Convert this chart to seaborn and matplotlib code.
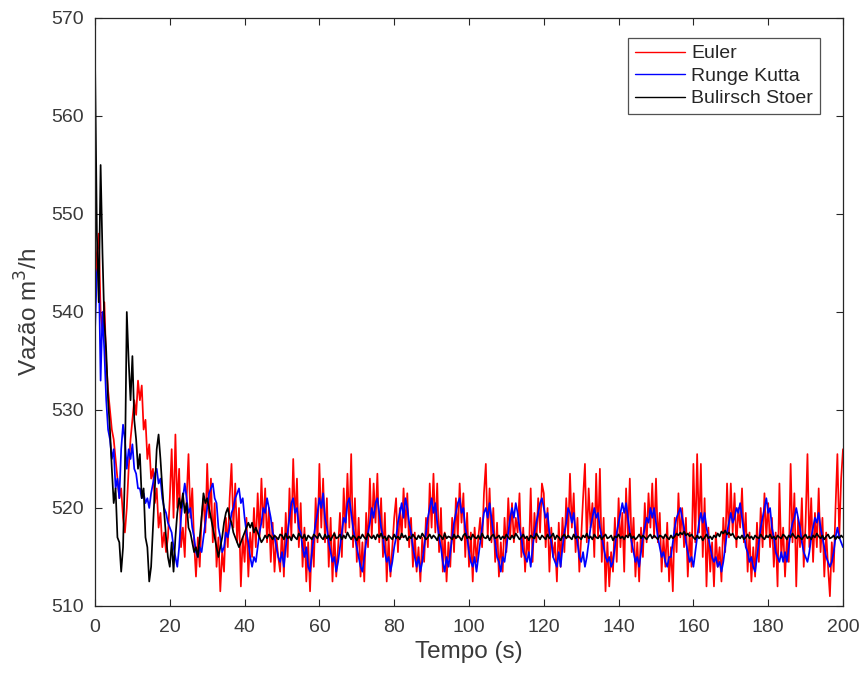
import numpy as np
import pandas as pd
import matplotlib
matplotlib.use("Agg")
import matplotlib.pyplot as plt
import seaborn as sns

# ---------------- data (0.5 s step) ----------------
t_step = 0.5

euler = [
    541, 546, 548, 540, 538, 541, 535, 532, 530, 528, 527, 525, 523, 521, 522, 519, 517.5, 520, 524, 527,
    529, 531, 529.5, 533, 531, 532.5, 528, 529, 525, 526.5, 523, 524, 520.5, 522, 518, 519.5, 516, 517.5, 515.5, 517,
    521, 526, 519, 527.5, 520, 524, 516, 518, 515, 521, 525.5, 519, 522, 516.5, 513, 517, 514, 519, 521, 517.5,
    524.5, 519, 523, 516.5, 520.5, 514, 517, 511.5, 515.5, 513.5, 519, 516, 521, 524.5, 518, 522.5, 516.5, 520, 512, 517,
    514.5, 519, 513, 517.5, 515, 520, 516, 521.5, 517, 523, 518, 522, 516.5, 520, 514.5, 518.5, 513.5, 517, 515, 513.5,
    518, 513, 519.5, 515, 522, 517, 525, 518.5, 523, 516, 520.5, 514, 518, 512.5, 516.5, 511.5, 517, 514, 521, 516.5,
    524.5, 518, 523, 516.5, 521, 514, 519, 512.5, 517.5, 513, 516, 519.5, 515, 522, 517.5, 523.5, 518, 525.5, 516, 521,
    514.5, 519, 513, 516.5, 512.5, 519.5, 516, 523, 517, 522.5, 518.5, 523.5, 516.5, 521, 515, 519.5, 512.5, 517, 513, 516,
    519, 521, 515.5, 520, 517, 522, 518, 521.5, 516, 519, 514, 517.5, 513.5, 516, 512.5, 517, 514.5, 519, 516, 522.5,
    518, 523.5, 517.5, 522.5, 515.5, 520, 513.5, 517.5, 512.5, 516.5, 514, 519, 515.5, 521, 517, 522.5, 518.5, 521.5, 515, 519.5,
    514, 517.5, 512.5, 518, 514.5, 517, 519, 516, 521.5, 524.5, 517, 522, 516.5, 520, 514.5, 518.5, 513, 516.5, 513.5, 519,
    515.5, 521, 517, 520.5, 516.5, 519, 517.5, 521.5, 515, 518, 513.5, 517, 515, 522, 514.5, 519.5, 516.5, 521, 517.5, 522.5,
    521.5, 516, 520, 513.5, 518, 515, 516.5, 512.5, 518.5, 514, 519, 515.5, 521, 517, 523.5, 518, 521.5, 515.5, 519, 513.5,
    517, 521, 524.5, 516.5, 522, 518, 520.5, 515, 523.5, 517, 524, 514.5, 519, 511.5, 516.5, 512, 515.5, 513.5, 519, 514.5,
    521, 516, 519.5, 513.5, 522, 517, 523, 515.5, 519, 513, 516.5, 512.5, 518, 515, 520.5, 516.5, 521.5, 518, 522.5, 517,
    523, 516.5, 519.5, 513.5, 517, 514, 518.5, 512.5, 516, 511.5, 519, 515.5, 521.5, 517, 520, 516, 519, 513, 517.5, 514,
    524.5, 516.5, 525.5, 517.5, 524.5, 515, 521, 512, 518, 513.5, 516.5, 512, 517.5, 514, 516, 512.5, 519, 515.5, 522.5, 517,
    522.5, 517.5, 521.5, 516, 520, 518, 522, 516.5, 519.5, 513.5, 517.5, 512.5, 516, 513, 518.5, 514.5, 520, 516, 521.5, 517,
    520.5, 516, 519, 514, 517.5, 512, 522.5, 515, 518, 513, 517, 514.5, 524.5, 516.5, 521.5, 512, 519, 516, 521, 514,
    518.5, 525.5, 516, 521, 514.5, 519.5, 516, 522, 515.5, 519, 513, 517.5, 514, 511, 516.5, 513.5, 520, 525.5, 517, 523,
    526,
]

runge_kutta = [
    538, 544, 545, 533, 540, 536, 531, 528, 527, 525, 526, 522, 523, 521, 526, 528.5, 527, 524, 526, 525,
    526.5, 524, 523.5, 522, 522, 521, 521.5, 520.5, 521, 520, 521.5, 522.5, 523.5, 524, 522.5, 523, 521, 520, 519.5, 518.5,
    518, 517.5, 516, 515, 514, 516, 519, 521, 522.5, 521, 519.5, 520, 518, 517, 515.5, 515, 516, 515.5, 517, 518.5,
    520, 521.5, 522, 522.5, 521, 520.5, 518, 517, 515.5, 516, 517.5, 517, 518, 519.5, 520, 521, 521.5, 522, 520.5, 521,
    519, 517.5, 516.5, 515, 514, 515, 514.5, 516, 517.5, 518.5, 520, 519.5, 521, 520, 519, 517.5, 517, 516, 515, 514.5,
    515.5, 514, 516, 517.5, 519, 520.5, 521, 519.5, 520, 518, 517.5, 516, 515, 516, 514, 513.5, 515.5, 517, 518.5, 519.5,
    521, 520, 521.5, 519, 518, 516.5, 515.5, 514.5, 515, 513.5, 514.5, 516, 517.5, 519, 518.5, 520.5, 521, 519.5, 518, 517,
    516, 515, 514, 513.5, 515, 516.5, 517.5, 518.5, 520, 519, 520.5, 521, 519.5, 518, 517, 515.5, 514.5, 515, 513.5, 514.5,
    516, 517, 518.5, 519.5, 520.5, 519, 521, 520, 518.5, 517.5, 516, 515, 514, 515, 513.5, 514.5, 516, 517.5, 519, 520,
    521, 519.5, 520.5, 518.5, 517, 516, 514.5, 513.5, 515, 514, 515.5, 517, 518.5, 519.5, 520.5, 521, 519.5, 520, 518, 517,
    515.5, 514.5, 514, 515, 513.5, 515, 516.5, 518, 519.5, 520, 519, 520.5, 519, 517.5, 516.5, 515, 514.5, 513.5, 515, 514.5,
    516, 517.5, 519, 520, 519, 520.5, 519.5, 518, 517, 515.5, 515, 514.5, 515.5, 514, 516, 517.5, 518.5, 519.5, 520.5, 521,
    520, 519, 519.5, 517.5, 516.5, 515, 514.5, 514, 515.5, 514, 516, 517.5, 518.5, 520, 519.5, 518.5, 519.5, 517.5, 516.5, 515,
    514.5, 515.5, 514, 515, 516.5, 518, 519, 520, 519, 519.5, 518, 517, 516, 515, 514.5, 515, 514, 514.5, 516, 517.5,
    518.5, 519.5, 520.5, 519.5, 520.5, 519, 517.5, 516.5, 515.5, 514.5, 515, 514, 515.5, 517, 518, 519, 518.5, 520, 519, 520,
    518.5, 517, 516, 515, 515.5, 514.5, 514, 515, 515, 516.5, 518, 519, 519.5, 520, 519, 518, 516.5, 515.5, 514.5, 515,
    514, 515.5, 517, 518.5, 519.5, 518.5, 519.5, 518, 517, 516, 515, 514.5, 515, 514, 514.5, 513.5, 514.5, 516, 517.5, 518.5,
    519.5, 518.5, 519, 520, 519.5, 520.5, 519, 517.5, 516, 515.5, 514.5, 515, 514, 513.5, 515, 516.5, 518, 519, 520, 521,
    519.5, 520, 518, 517, 515.5, 515, 514.5, 515.5, 514.5, 515.5, 514.5, 516, 517.5, 518.5, 519, 520, 519, 518, 516.5, 515.5,
    515, 514.5, 515.5, 517, 518, 519, 518.5, 519.5, 518, 517, 516, 515, 514.5, 514, 514.5, 515.5, 517, 518, 517, 516.5,
    516,
]

bulirsch_stoer = [
    566, 548, 541, 555, 546, 539, 536, 531, 528, 524, 520.5, 522, 517, 516.5, 513.5, 516, 524, 540, 535, 531,
    535.5, 529, 527, 524, 525.5, 521, 522, 517, 516, 512.5, 514, 518, 522, 526, 527.5, 525, 522, 519.5, 517, 515,
    514, 516.5, 513.5, 517, 519.5, 521, 520, 521.5, 519.5, 520.5, 518, 517.5, 516.5, 515.5, 516, 515, 517, 519, 521.5, 520.5,
    521, 520, 519, 518, 517, 516, 515, 516, 517, 518.5, 519.5, 520, 519, 518.5, 517.5, 517, 516.5, 516, 516.5, 517,
    517.5, 518, 518.5, 518, 518.5, 517.5, 518, 517.5, 517, 516.5, 516.8, 517.2, 516.9, 517.3, 517.1, 516.8, 517.2, 517, 516.8, 517.3,
    517.2, 516.8, 517.4, 516.9, 517.1, 516.7, 517.3, 517.0, 516.8, 517.4, 517.1, 516.9, 517.3, 516.7, 517.2, 517.0, 516.8, 517.3, 517.1, 516.9,
    517.4, 517.0, 516.8, 517.3, 516.9, 517.2, 516.7, 517.1, 517.4, 516.9, 517.0, 517.3, 516.8, 517.2, 516.9, 517.5, 517.1, 516.8, 517.2, 517.0,
    516.7, 517.1, 516.9, 517.3, 517.0, 516.8, 517.4, 517.1, 516.9, 517.2, 516.8, 517.3, 517.0, 517.4, 516.9, 517.1, 516.7, 517.2, 517.0, 516.8,
    517.3, 516.9, 517.1, 516.8, 517.4, 517.0, 517.2, 516.7, 517.1, 516.9, 517.3, 517.0, 516.8, 517.2, 516.9, 517.4, 517.1, 516.8, 517.0, 517.3,
    516.9, 517.2, 517.0, 516.7, 517.3, 517.1, 516.8, 517.4, 516.9, 517.1, 517.0, 516.8, 517.3, 516.9, 517.2, 517.0, 516.7, 517.2, 517.4, 516.9,
    517.1, 516.8, 517.3, 517.0, 516.9, 517.2, 516.8, 517.4, 517.0, 516.9, 517.2, 516.7, 517.1, 517.3, 516.9, 517.0, 517.2, 516.8, 517.1, 516.9,
    517.3, 517.0, 516.8, 517.2, 516.9, 517.4, 517.1, 516.8, 517.0, 517.3, 516.9, 517.1, 516.7, 517.2, 517.0, 516.9, 517.4, 517.1, 516.8, 517.2,
    517.0, 516.8, 517.3, 516.9, 517.1, 517.4, 516.8, 517.2, 517.0, 516.7, 517.1, 517.3, 516.9, 517.2, 517.0, 516.8, 517.3, 516.9, 517.1, 517.0,
    516.8, 517.2, 517.0, 517.4, 516.9, 517.1, 516.8, 517.3, 517.0, 516.9, 517.2, 516.8, 517.1, 517.3, 516.9, 517.0, 517.2, 516.7, 517.1, 517.0,
    517.3, 516.9, 517.1, 516.8, 517.2, 517.0, 517.4, 516.9, 517.1, 516.8, 517.0, 517.3, 516.9, 517.2, 517.0, 516.8, 517.1, 517.3, 516.9, 517.2,
    517.0, 516.8, 517.2, 517.1, 516.9, 517.3, 517.0, 516.8, 517.2, 516.9, 517.1, 517.4, 517.2, 517.5, 517.3, 517.6, 517.2, 517.4, 517.1, 517.3,
    517.0, 516.8, 517.2, 516.9, 517.1, 516.7, 517.0, 517.3, 516.9, 517.1, 516.8, 517.2, 517.0, 517.4, 517.1, 517.6, 517.4, 517.7, 517.3, 517.5,
    517.2, 517.4, 517.0, 516.8, 517.1, 516.9, 517.2, 516.8, 517.0, 517.3, 516.9, 517.1, 516.8, 517.2, 517.0, 516.9, 517.3, 517.0, 516.8, 517.2,
    517.0, 517.3, 516.9, 517.1, 516.8, 517.2, 517.0, 516.9, 517.3, 517.1, 516.8, 517.2, 517.0, 517.4, 517.1, 516.9, 517.2, 517.0, 516.8, 517.1,
    517.3, 516.9, 517.1, 516.8, 517.2, 517.0, 517.4, 517.1, 516.9, 517.2, 516.8, 517.1, 517.3, 516.9, 517.0, 517.2, 516.8, 517.1, 516.9, 517.2,
    517.0,
]

series_names = ["Euler", "Runge Kutta", "Bulirsch Stoer"]
series_colors = ["#ff0000", "#0000ff", "#000000"]
x_ticks = [0, 20, 40, 60, 80, 100, 120, 140, 160, 180, 200]
y_ticks = [510, 520, 530, 540, 550, 560, 570]

# ---------------- long-form table ----------------
frames = []
for name, vals in zip(series_names, [euler, runge_kutta, bulirsch_stoer]):
    tt = np.arange(len(vals)) * t_step
    frames.append(pd.DataFrame({"t": tt, "v": vals, "metodo": name}))
df = pd.concat(frames, ignore_index=True)

# ---------------- style ----------------
sns.set_theme(style="white")
plt.rcParams["font.family"] = ["Liberation Sans", "DejaVu Sans"]
plt.rcParams.update({
    "xtick.direction": "in", "ytick.direction": "in",
    "xtick.top": True, "ytick.right": True,
    "xtick.bottom": True, "ytick.left": True,
    "xtick.major.size": 5, "ytick.major.size": 5,
    "xtick.major.width": 0.8, "ytick.major.width": 0.8,
    "xtick.color": "#262626", "ytick.color": "#262626",
    "axes.edgecolor": "#262626", "axes.linewidth": 0.9,
})

fig = plt.figure(figsize=(8.63, 6.84), dpi=100)
ax = fig.add_axes([95 / 863, 1 - 606 / 684, (843 - 95) / 863, (606 - 18) / 684])

sns.lineplot(data=df, x="t", y="v", hue="metodo", hue_order=series_names,
             palette=dict(zip(series_names, series_colors)),
             estimator=None, sort=False, linewidth=1.25, ax=ax)

ax.set_xlim(0, 200)
ax.set_ylim(510, 570)
ax.set_xticks(x_ticks)
ax.set_yticks(y_ticks)
ax.tick_params(labelsize=14, labelcolor="#3a3a3a")
ax.tick_params(axis="x", pad=9)
ax.tick_params(axis="y", pad=8)
ax.set_xlabel("Tempo (s)", fontsize=17.5, color="#3a3a3a", labelpad=4)
ax.set_ylabel("Vazão m$^3$/h", fontsize=17.5, color="#3a3a3a", labelpad=6)
for s in ax.spines.values():
    s.set_visible(True)
    s.set_color("#262626")

leg = ax.legend(loc="upper right", bbox_to_anchor=(820 / 863, 1 - 38 / 684),
                bbox_transform=fig.transFigure, fontsize=14, frameon=True, fancybox=False,
                handlelength=2.6, labelspacing=0.25, borderpad=0.35, handletextpad=0.3,
                borderaxespad=0)
leg.get_frame().set_edgecolor("#262626")
leg.get_frame().set_linewidth(0.9)
for h in leg.get_lines():
    h.set_linewidth(1.0)

fig.savefig("out.png", dpi=100)
